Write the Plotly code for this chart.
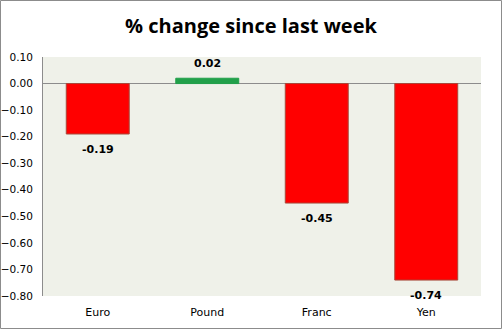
import plotly.graph_objects as go

categories = ["Euro", "Pound", "Franc", "Yen"]
values = [-0.19, 0.02, -0.45, -0.74]
labels = ["-0.19", "0.02", "-0.45", "-0.74"]

colors = ["#FF0000" if v < 0 else "#21A04A" for v in values]
edges = ["#A8483A" if v < 0 else "#21A04A" for v in values]

W, H = 502, 329
L, R, T, B = 43, 21, 57, 33
pw, ph = W - L - R, H - T - B

fig = go.Figure(go.Bar(
    x=categories, y=values,
    marker=dict(color=colors, line=dict(color=edges, width=1)),
    width=0.575,
))

for c, v, t in zip(categories, values, labels):
    fig.add_annotation(x=c, y=v, text="<b>%s</b>" % t, showarrow=False,
                       yshift=15 if v >= 0 else -15, yanchor="middle",
                       font=dict(family="DejaVu Sans", size=11, color="black"))

fig.update_layout(
    width=W, height=H, margin=dict(l=L, r=R, t=T, b=B, autoexpand=False),
    paper_bgcolor="white", plot_bgcolor="#EFF1E9",
    title=dict(text="<b>% change since last week</b>", x=0.5, xanchor="center",
               y=1 - 26 / H, yanchor="middle",
               font=dict(family="Open Sans", size=20, color="black")),
    showlegend=False,
    xaxis=dict(showgrid=False, showline=False, ticks="", ticklabelstandoff=8,
               automargin=False,
               tickfont=dict(family="DejaVu Sans", size=11, color="black")),
    yaxis=dict(range=[-0.80, 0.10], dtick=0.1, tick0=0, tickformat=".2f",
               showgrid=False, showline=True, linecolor="#8C8C8C", linewidth=1,
               zeroline=True, zerolinecolor="#8C8C8C", zerolinewidth=1,
               ticks="", ticklabelstandoff=7, automargin=False,
               tickfont=dict(family="DejaVu Sans", size=10.5, color="black")),
)

fig.add_shape(type="rect", xref="paper", yref="paper",
              x0=(-L + 0.5) / pw, x1=1 + (R - 0.5) / pw,
              y0=(-B + 0.5) / ph, y1=1 + (T - 0.5) / ph,
              line=dict(color="#8C8C8C", width=1), fillcolor="rgba(0,0,0,0)", layer="above")

fig.write_html("out.html")
